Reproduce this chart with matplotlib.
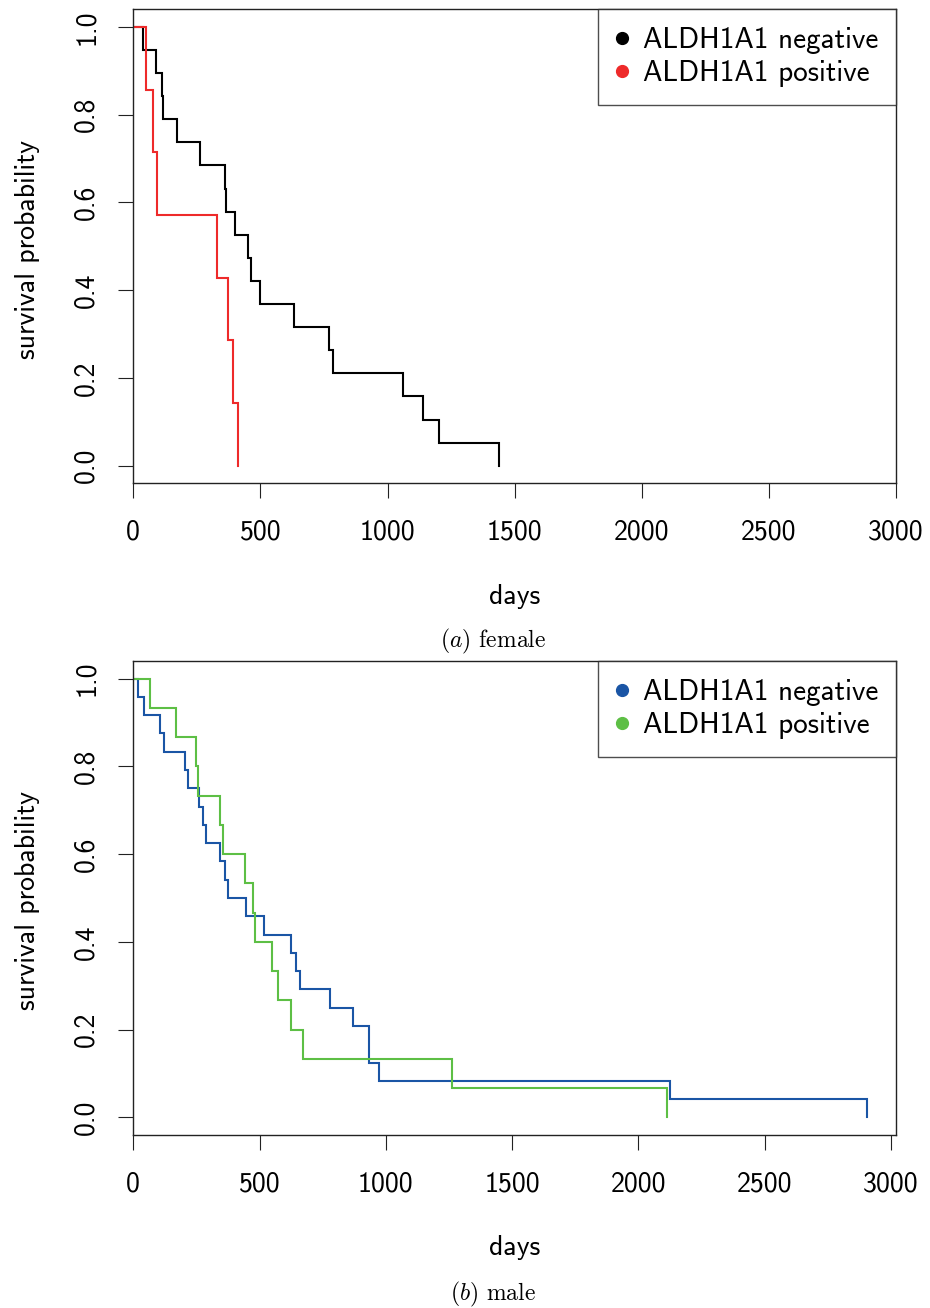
import numpy as np
import matplotlib
matplotlib.use("Agg")
import matplotlib.pyplot as plt
from matplotlib.lines import Line2D

# Death times (days) per group; no censoring in these cohorts
female_neg_days = [38, 90, 113, 118, 170, 261, 360, 366, 400, 450, 464, 499,
                   633, 771, 785, 1060, 1139, 1203, 1439]
female_pos_days = [50, 79, 93, 330, 374, 393, 413]
male_neg_days = [19, 44, 105, 120, 204, 217, 260, 277, 289, 342, 365, 373,
                 446, 516, 624, 644, 662, 779, 870, 932, 932, 973, 2124, 2905]
male_pos_days = [68, 171, 249, 257, 344, 356, 442, 472, 480, 550, 571, 623,
                 672, 1262, 2112]

group_labels = ["ALDH1A1 negative", "ALDH1A1 positive"]
female_colors = ["#000000", "#EE2A2A"]
male_colors = ["#1A55A5", "#5DBF45"]

x_ticks = [0, 500, 1000, 1500, 2000, 2500, 3000]
x_tick_labels = ["0", "500", "1000", "1500", "2000", "2500", "3000"]
y_ticks = [0.0, 0.2, 0.4, 0.6, 0.8, 1.0]
y_tick_labels = ["0.0", "0.2", "0.4", "0.6", "0.8", "1.0"]
panel_captions = [r"$\mathit{(a)}$ female", r"$\mathit{(b)}$ male"]

plt.rcParams["font.family"] = "cmss10"
plt.rcParams["mathtext.fontset"] = "cm"
plt.rcParams["axes.formatter.use_mathtext"] = True

W, H = 930, 1308
fig = plt.figure(figsize=(W / 100, H / 100), dpi=100)
fig.patch.set_facecolor("white")


def km_curve(days):
    """Kaplan-Meier estimate for fully observed event times."""
    t = np.sort(np.asarray(days, dtype=float))
    n = len(t)
    at_risk = n - np.arange(n)
    surv = np.cumprod(1.0 - 1.0 / at_risk)
    return np.r_[0.0, t], np.r_[1.0, surv]


def draw_panel(ax, groups, colors, xmax):
    for days, col in zip(groups, colors):
        x, y = km_curve(days)
        ax.plot(x, y, drawstyle="steps-post", color=col, lw=1.5,
                solid_joinstyle="miter")
    ax.set_xlim(0, xmax)
    ax.set_ylim(-0.04, 1.04)
    ax.set_xticks(x_ticks)
    ax.set_xticklabels(x_tick_labels)
    ax.set_yticks(y_ticks)
    ax.set_yticklabels(y_tick_labels)
    ax.tick_params(axis="both", direction="out", length=11, width=0.8,
                   labelsize=20, color="#222222")
    ax.tick_params(axis="x", pad=15)
    ax.tick_params(axis="y", pad=14, labelrotation=90)
    for lab in ax.get_yticklabels():
        lab.set_verticalalignment("center")
    for sp in ax.spines.values():
        sp.set_linewidth(1.0)
        sp.set_color("#222222")
    ax.set_xlabel("days", fontsize=20)
    ax.xaxis.set_label_coords(0.5, -0.254)
    ax.xaxis.label.set_verticalalignment("baseline")
    ax.text(-0.139, 0.494, "survival probability", transform=ax.transAxes,
            rotation=90, ha="center", va="center", fontsize=20)
    handles = [Line2D([], [], ls="none", marker="o", ms=8.5, color=c)
               for c in colors]
    leg = ax.legend(handles, group_labels, loc="upper right",
                    bbox_to_anchor=(1, 1), borderaxespad=0, fontsize=21,
                    frameon=True, fancybox=False, edgecolor="#222222",
                    handlelength=0.4, handletextpad=0.5, labelspacing=0.2,
                    borderpad=0.62)
    leg.get_frame().set_linewidth(1.0)


left = 133.3 / W
width = (896 - 133.3) / W
ax_top = fig.add_axes([left, 1 - 483.3 / H, width, 474 / H])
ax_bot = fig.add_axes([left, 1 - 1135 / H, width, 474 / H])

draw_panel(ax_top, [female_neg_days, female_pos_days], female_colors, 3000)
draw_panel(ax_bot, [male_neg_days, male_pos_days], male_colors, 3020)

fig.text(493 / W, 1 - 647 / H, panel_captions[0], ha="center", va="baseline",
         fontsize=17, family="cmr10")
fig.text(493 / W, 1 - 1300 / H, panel_captions[1], ha="center", va="baseline",
         fontsize=17, family="cmr10")

fig.savefig("out.png", dpi=100, facecolor="white")
